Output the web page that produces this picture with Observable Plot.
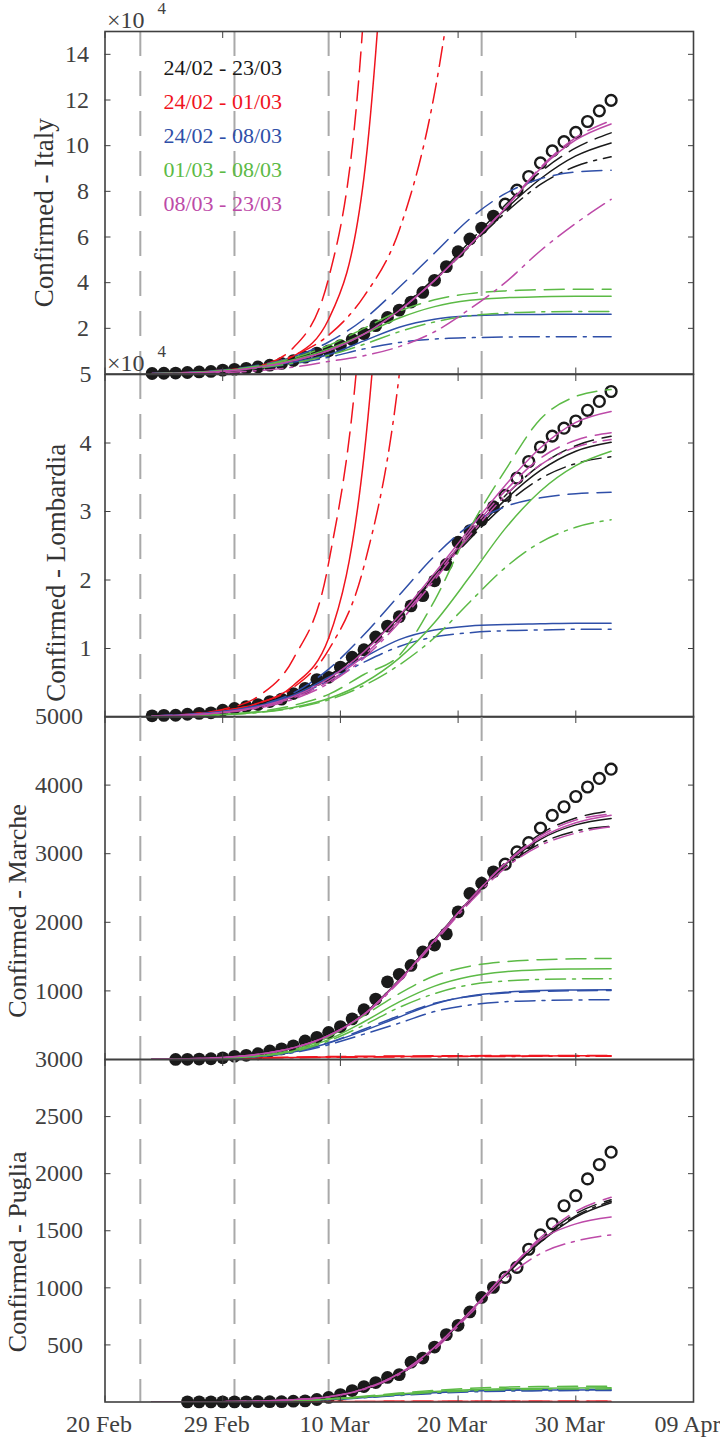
<!DOCTYPE html>
<html><head><meta charset="utf-8">
<script src="https://cdn.jsdelivr.net/npm/d3@7"></script>
<script src="https://cdn.jsdelivr.net/npm/@observablehq/plot@0.6"></script>
<style>
body{margin:0;background:#fff;}
#wrap{position:relative;width:720px;height:1439px;overflow:hidden;background:#fff;font-family:"Liberation Serif","Times New Roman",serif;}
.panel{position:absolute;left:0;}
</style></head><body><div id="wrap"></div>
<script>
// ---------- axes / annotation values ----------
const xTickDays = [0, 10, 20, 30, 40, 50];            // days after 20 Feb
const xTickLabels = ["20 Feb", "29 Feb", "10 Mar", "20 Mar", "30 Mar", "09 Apr"];
const splitDays = [3, 11, 19, 32];
const lastFittedDay = 33;                              // filled markers up to this day, open after
const legendLabels = ["24/02 - 23/03", "24/02 - 01/03", "24/02 - 08/03", "01/03 - 08/03", "08/03 - 23/03"];
const seriesColors = ["#1a1a1a", "#f0141e", "#2f4fa8", "#5cba46", "#bd4aa8"];
const lineStyles = [null, "20,9", "20,7,3,7"];        // solid, dashed, dash-dot
const fitDays = [4, 7, 10, 13, 16, 19, 22, 25, 28, 31, 34, 37, 40, 43];

// ---------- observed confirmed cases ----------
const italyFirstDay = 4;
const italyData = [229,322,400,650,888,1128,1694,2036,2502,3089,3858,4636,5883,7375,9172,10149,12462,15113,17660,21157,24747,27980,31506,35713,41035,47021,53578,59138,63927,69176,74386,80539,86498,92472,97689,101739,105792,110574,115242,119827];
const lombardiaFirstDay = 4;
const lombardiaData = [172,240,258,403,531,615,984,1254,1520,1820,2251,2612,3420,4189,5469,5791,7280,8725,9820,11685,13272,14649,16220,17713,19884,22264,25515,27206,28761,30703,32346,34889,37298,39415,41007,42161,43208,44773,46065,47520];
const marcheFirstDay = 6;
const marcheData = [1,3,6,11,25,46,61,84,124,155,199,271,323,394,479,592,725,881,1133,1242,1371,1568,1669,1831,2153,2421,2569,2736,2847,3027,3160,3373,3558,3684,3834,3972,4097,4232];
const pugliaFirstDay = 7;
const pugliaData = [1,1,1,1,1,1,3,3,3,7,10,22,40,65,100,135,170,215,240,349,385,481,590,672,789,916,1004,1092,1180,1338,1464,1561,1719,1807,1954,2080,2188];

// ---------- model fits (rows: black, red, blue, green, magenta x solid, dashed, dash-dot) ----------
const italyFits = [
 [300,700,1500,3000,5700,10400,18000,28500,41500,56500,72000,85500,95500,101200],
 [300,700,1500,3000,5700,10400,18000,28700,42000,58000,74000,88500,99000,105600],
 [300,700,1500,3000,5700,10400,18000,28300,41000,56000,70500,83000,91000,95100],
 [230,650,1500,3200,7800,24000,86000,300000,null,null,null,null,null,null],
 [230,650,1700,3500,11500,42000,160000,600000,null,null,null,null,null,null],
 [230,650,1600,3500,8000,17000,34000,63000,123000,230000,null,null,null,null],
 [250,650,1500,3000,5200,8500,14500,20500,24000,25500,26000,26100,26200,26200],
 [250,700,1800,3800,7500,14000,24000,38000,53000,68000,79000,85500,88500,89200],
 [230,600,1300,2600,4500,7300,11000,13800,15300,15900,16200,16300,16300,16300],
 [150,500,1400,3200,6200,11000,17500,24500,29500,32300,33400,33800,34000,34000],
 [150,500,1500,3500,7000,12500,20000,27500,32500,35200,36400,36900,37100,37100],
 [150,450,1200,2600,4800,8200,13000,18500,22800,25500,26700,27200,27400,27400],
 [100,400,1200,2900,5800,10300,17500,27800,41000,56500,72500,90000,102500,109500],
 [100,400,1200,2900,5800,10300,17500,27800,41000,56500,72800,90500,103500,111000],
 [50,200,600,1500,3000,5500,8000,12000,18500,28500,40000,54000,66000,76500]
];
const lombardiaFits = [
 [200,420,900,1800,3400,6000,9800,14700,20500,26300,31700,36000,38800,40100],
 [200,420,900,1800,3400,6000,9800,14800,20700,26700,32300,36800,39600,41000],
 [200,420,900,1800,3400,6000,9800,14600,20300,26000,31000,34800,37000,38000],
 [150,380,900,2000,4600,11500,38000,105000,null,null,null,null,null,null],
 [150,400,1100,3000,8500,22500,65000,180000,null,null,null,null,null,null],
 [150,380,900,2000,4300,9800,22000,50000,110000,null,null,null,null,null],
 [150,350,800,1650,3200,5800,8700,11300,12700,13300,13500,13600,13700,13700],
 [150,350,800,1700,3500,7000,12000,17800,23500,28000,30700,32000,32600,32800],
 [150,350,750,1550,3000,5300,8000,10300,11700,12300,12600,12700,12800,12800],
 [60,150,350,700,1400,2700,5000,8600,13800,20500,27500,33000,36700,38800],
 [60,150,380,800,1700,3300,6200,9000,17000,27500,36000,43500,46800,47800],
 [60,140,330,650,1300,2500,4600,7600,11600,16800,21800,25500,27700,28800],
 [120,300,700,1500,3000,5600,9500,14800,21000,27500,33800,39300,43000,44600],
 [120,300,650,1400,2800,5200,9000,14200,20400,27000,33000,37800,40400,41500],
 [110,280,620,1300,2600,4900,8600,13800,20000,26500,32300,36800,39400,40500]
];
const marcheFits = [
 [2,10,30,78,175,360,670,1160,1750,2330,2840,3210,3420,3514],
 [2,10,30,78,175,360,670,1160,1750,2340,2870,3290,3520,3625],
 [2,10,30,78,175,360,670,1160,1740,2310,2810,3150,3330,3400],
 [1,5,14,22,30,36,40,44,47,49,51,52,53,54],
 [1,6,16,26,35,42,47,51,54,56,58,59,60,60],
 [1,4,12,19,26,31,35,38,41,43,45,46,47,47],
 [0,5,17,45,110,240,420,620,810,925,980,1005,1013,1017],
 [0,5,17,45,110,245,440,640,820,920,970,993,1002,1005],
 [0,5,16,42,100,215,370,530,700,795,842,860,868,871],
 [0,6,20,52,125,290,550,840,1070,1210,1280,1310,1320,1324],
 [0,6,22,58,140,330,640,960,1220,1360,1425,1455,1468,1472],
 [0,5,19,48,115,270,500,760,960,1090,1145,1167,1175,1178],
 [2,10,30,75,170,350,660,1150,1740,2330,2850,3230,3450,3562],
 [2,10,30,75,170,350,660,1150,1740,2330,2860,3260,3490,3580],
 [2,10,30,75,170,345,650,1130,1710,2290,2790,3120,3300,3391]
];
const pugliaFits = [
 [0,1,3,8,20,45,110,240,470,790,1110,1400,1620,1745],
 [0,1,3,8,20,45,110,240,470,790,1115,1420,1650,1772],
 [0,1,3,8,20,45,110,240,470,790,1105,1405,1630,1758],
 [0,1,2,3,3,4,4,4,5,5,5,5,5,5],
 [0,1,2,3,4,5,5,6,6,6,6,6,6,6],
 [0,1,2,2,3,3,3,4,4,4,4,4,4,4],
 [0,1,2,4,10,22,40,62,82,95,102,105,106,107],
 [0,1,2,4,10,23,42,65,86,99,106,108,110,110],
 [0,1,2,4,9,20,37,57,75,88,95,98,100,100],
 [0,1,2,5,12,25,45,70,92,107,116,121,123,125],
 [0,1,2,5,13,28,50,78,102,120,130,135,137,138],
 [0,1,2,5,11,23,42,64,84,98,107,112,114,115],
 [0,1,3,8,20,45,115,250,480,790,1120,1420,1560,1620],
 [0,1,3,8,20,45,115,250,480,790,1125,1440,1670,1793],
 [0,1,3,8,20,44,110,240,460,770,1080,1300,1410,1464]
];

// ---------- y tick values ----------
const italyTicks = [20000,40000,60000,80000,100000,120000,140000];
const lombardiaTicks = [10000,20000,30000,40000,50000];
const marcheTicks = [1000,2000,3000,4000,5000];
const pugliaTicks = [500,1000,1500,2000,2500,3000];

// ---------- layout ----------
const ML = 104.5, MR = 27, W = 720;
const axisColor = "#404040";
const FONT = "'Liberation Serif','Times New Roman',serif";
const panels = [
  {label:"Confirmed - Italy", first:italyFirstDay, data:italyData, fits:italyFits, max:150000, ticks:italyTicks, fmt:d=>String(d/1e4), top:31, h:342.5, mt:31, mb:20, labelX:52, labelDy:10, labelSize:27, pad:16, legend:true, sci:true, xlabels:false},
  {label:"Confirmed - Lombardia", first:lombardiaFirstDay, data:lombardiaData, fits:lombardiaFits, max:50000, ticks:lombardiaTicks, fmt:d=>String(d/1e4), top:373.5, h:342.5, mt:35, mb:20, labelX:64, labelDy:27, labelSize:27, pad:13.5, legend:false, sci:true, xlabels:false},
  {label:"Confirmed - Marche", first:marcheFirstDay, data:marcheData, fits:marcheFits, max:5000, ticks:marcheTicks, fmt:d=>String(d), top:716, h:343, mt:20, mb:20, labelX:25, labelDy:23, labelSize:26, pad:22, legend:false, sci:false, xlabels:false},
  {label:"Confirmed - Puglia", first:pugliaFirstDay, data:pugliaData, fits:pugliaFits, max:3000, ticks:pugliaTicks, fmt:d=>String(d), top:1059, h:342.5, mt:20, mb:40, labelX:25, labelDy:21, labelSize:26, pad:22, legend:false, sci:false, xlabels:true}
];

const wrap = document.getElementById("wrap");
for (const p of panels) {
  const obs = p.data.map((v, i) => ({day: p.first + i, value: v}));
  const filled = obs.filter(d => d.day <= lastFittedDay);
  const open = obs.filter(d => d.day > lastFittedDay);
  const marks = [
    Plot.ruleX(splitDays, {stroke: "#a9a9a9", strokeWidth: 2, strokeDasharray: "25,15"}),
    Plot.dot(filled, {x: "day", y: "value", r: 6.4, fill: "#1a1a1a", stroke: "none"}),
    Plot.dot(open, {x: "day", y: "value", r: 5.4, fill: "none", stroke: "#1a1a1a", strokeWidth: 2.4})
  ];
  p.fits.forEach((vals, k) => {
    const rows = fitDays.map((d, j) => ({day: d, value: vals[j]})).filter(r => r.value != null);
    marks.push(Plot.line(rows, {x: "day", y: "value", stroke: seriesColors[Math.floor(k / 3)],
      strokeDasharray: lineStyles[k % 3], strokeWidth: 1.5, curve: "monotone-x", clip: true}));
  });
  marks.push(
    Plot.frame({stroke: axisColor, strokeWidth: 1.6}),
    // inward ticks
    Plot.axisY(p.ticks, {anchor: "left", tickSize: 6, dx: 6, tickFormat: () => "", label: null, stroke: axisColor}),
    Plot.axisY(p.ticks, {anchor: "right", tickSize: 6, dx: -6, tickFormat: () => "", label: null, stroke: axisColor}),
    Plot.axisX(xTickDays, {anchor: "bottom", tickSize: 6, dy: -6, tickFormat: () => "", label: null, stroke: axisColor}),
    Plot.axisX(xTickDays, {anchor: "top", tickSize: 6, dy: 6, tickFormat: () => "", label: null, stroke: axisColor}),
    // tick labels
    Plot.axisY(p.ticks, {anchor: "left", tickSize: 0, tickPadding: p.pad, tickFormat: p.fmt, label: null, fontSize: 24, fontFamily: FONT, fill: axisColor}),
    Plot.text([p.label], {frameAnchor: "left", dx: p.labelX - ML, dy: p.labelDy, rotate: -90, textAnchor: "middle", lineAnchor: "bottom", fontSize: p.labelSize, fontFamily: FONT, fill: "#333"})
  );
  if (p.xlabels) {
    marks.push(Plot.axisX(xTickDays, {anchor: "bottom", tickSize: 0, tickPadding: 13, dx: -6, label: null, fontSize: 24, fontFamily: FONT, fill: axisColor,
      tickFormat: d => xTickLabels[xTickDays.indexOf(d)]}));
  }
  if (p.sci) {
    marks.push(
      Plot.text(["×10"], {frameAnchor: "top-left", dx: 2, dy: -4, textAnchor: "start", lineAnchor: "bottom", fontSize: 24, fontFamily: FONT, fill: axisColor}),
      Plot.text(["4"], {frameAnchor: "top-left", dx: 52.5, dy: -18, textAnchor: "start", lineAnchor: "bottom", fontSize: 17, fontFamily: FONT, fill: axisColor})
    );
  }
  if (p.legend) {
    legendLabels.forEach((lab, i) => {
      marks.push(Plot.text([lab], {frameAnchor: "top-left", dx: 58.5, dy: 36 + 34 * i, textAnchor: "start", lineAnchor: "middle", fontSize: 22, fontFamily: FONT, fill: seriesColors[i]}));
    });
  }
  const chart = Plot.plot({
    width: W, height: p.mt + p.h + p.mb,
    marginLeft: ML, marginRight: MR, marginTop: p.mt, marginBottom: p.mb,
    x: {domain: [0, 50]},
    y: {domain: [0, p.max]},
    style: {background: "transparent", fontFamily: FONT, fontSize: "24px", overflow: "visible"},
    marks
  });
  const div = document.createElement("div");
  div.className = "panel";
  div.style.top = (p.top - p.mt) + "px";
  div.appendChild(chart);
  wrap.appendChild(div);
}
</script></body></html>
